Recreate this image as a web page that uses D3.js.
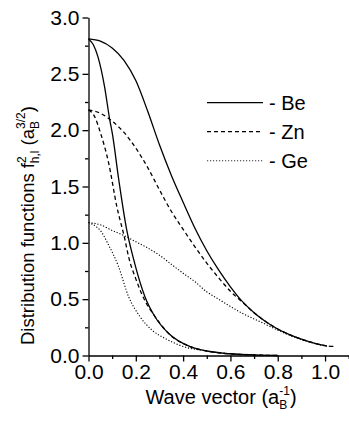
<!DOCTYPE html>
<html>
<head>
<meta charset="utf-8">
<script src="https://cdn.jsdelivr.net/npm/d3@7"></script>
<style>
  body { margin: 0; background: #fff; }
  text { font-family: "Liberation Sans", Arial, sans-serif; fill: #000; }
  .line { fill: none; stroke: #000; }
</style>
</head>
<body>
<div id="chart"></div>
<script>
// curves: [wave vector, f^2]
var beBroad = [[0,2.81],[0.05,2.79],[0.1,2.73],[0.15,2.62],[0.2,2.44],[0.25,2.17],[0.3,1.87],
  [0.35,1.60],[0.4,1.36],[0.45,1.13],[0.5,0.93],[0.55,0.76],[0.6,0.61],[0.65,0.48],[0.7,0.38],
  [0.75,0.30],[0.8,0.235],[0.85,0.185],[0.9,0.145],[0.95,0.112],[1.0,0.088],[1.007,0.086]];
var beNarrow = [[0,2.81],[0.02,2.76],[0.04,2.65],[0.068,2.385],[0.09,2.09],[0.1,1.98],[0.128,1.56],
  [0.162,1.11],[0.19,0.86],[0.239,0.52],[0.281,0.344],[0.338,0.197],[0.43,0.078],[0.5,0.04],
  [0.57,0.02],[0.7,0.005],[0.8,0.0]];
var znBroad = [[0,2.18],[0.05,2.15],[0.1,2.08],[0.15,1.98],[0.2,1.84],[0.25,1.67],[0.3,1.47],
  [0.35,1.28],[0.4,1.12],[0.45,0.965],[0.5,0.82],[0.55,0.69],[0.6,0.57],[0.65,0.475],[0.7,0.38],
  [0.75,0.30],[0.8,0.235],[0.85,0.185],[0.9,0.145],[0.95,0.112],[1.0,0.088],[1.04,0.08]];
var znNarrow = [[0,2.18],[0.026,2.12],[0.05,1.98],[0.085,1.71],[0.12,1.32],[0.155,1.02],[0.169,0.88],
  [0.2,0.68],[0.24,0.48],[0.27,0.38],[0.338,0.197],[0.43,0.078],[0.5,0.04],[0.57,0.02],[0.7,0.005],[0.8,0.0]];
var geBroad = [[0,1.18],[0.05,1.16],[0.1,1.11],[0.15,1.065],[0.2,1.01],[0.25,0.955],[0.3,0.89],
  [0.35,0.81],[0.4,0.73],[0.45,0.655],[0.5,0.565],[0.55,0.5],[0.6,0.435],[0.65,0.375],[0.7,0.325],
  [0.75,0.275],[0.8,0.225],[0.85,0.18],[0.9,0.14],[0.95,0.11],[1.0,0.085],[1.02,0.08]];
var geNarrow = [[0,1.18],[0.035,1.14],[0.05,1.11],[0.085,0.98],[0.125,0.80],[0.17,0.52],[0.218,0.344],
  [0.268,0.226],[0.325,0.15],[0.4,0.08],[0.5,0.04],[0.6,0.015],[0.7,0.005],[0.8,0.0]];

var xTicks = [0, 0.2, 0.4, 0.6, 0.8, 1.0];
var xMinor = [0.1, 0.3, 0.5, 0.7, 0.9, 1.1];
var yTicks = [0, 0.5, 1.0, 1.5, 2.0, 2.5, 3.0];
var yMinor = [0.25, 0.75, 1.25, 1.75, 2.25, 2.75];
var legendNames = ["- Be", "- Zn", "- Ge"];

var width = 349, height = 424;

// scales
var x = d3.scaleLinear().domain([0, 1.1]).range([88.5, 348.7]);
var y = d3.scaleLinear().domain([0, 3]).range([355.5, 17.5]);

var svg = d3.select("#chart").append("svg")
    .attr("width", width)
    .attr("height", height);

var line = d3.line()
    .x(function(d) { return x(d[0]); })
    .y(function(d) { return y(d[1]); })
    .curve(d3.curveMonotoneX);

var styles = [
  {data: beBroad, dash: null, w: 1.3, c: "#000"},
  {data: beNarrow, dash: null, w: 1.3, c: "#000"},
  {data: znBroad, dash: "4,3", w: 1.3, c: "#000"},
  {data: znNarrow, dash: "4,3", w: 1.3, c: "#000"},
  {data: geBroad, dash: "1.2,1.8", w: 1.1, c: "#333"},
  {data: geNarrow, dash: "1.2,1.8", w: 1.1, c: "#333"}
];

styles.forEach(function(s) {
  svg.append("path")
      .datum(s.data)
      .attr("class", "line")
      .attr("stroke", s.c)
      .attr("stroke-width", s.w)
      .attr("stroke-dasharray", s.dash)
      .attr("d", line);
});

// axes
var xAxis = svg.append("g")
    .attr("transform", "translate(0," + y(0) + ")")
    .call(d3.axisBottom(x).tickValues(xTicks).tickSize(6).tickSizeOuter(0)
      .tickFormat(d3.format(".1f")));
svg.append("g")
    .attr("transform", "translate(0," + y(0) + ")")
    .call(d3.axisBottom(x).tickValues(xMinor).tickSize(3.5).tickSizeOuter(0).tickFormat(""))
    .select(".domain").remove();

var yAxis = svg.append("g")
    .attr("transform", "translate(" + x(0) + ",0)")
    .call(d3.axisLeft(y).tickValues(yTicks).tickSize(6).tickSizeOuter(0)
      .tickFormat(d3.format(".1f")));
svg.append("g")
    .attr("transform", "translate(" + x(0) + ",0)")
    .call(d3.axisLeft(y).tickValues(yMinor).tickSize(3.5).tickSizeOuter(0).tickFormat(""))
    .select(".domain").remove();

svg.selectAll(".domain, .tick line").attr("stroke", "#000").attr("stroke-width", 1.3);
xAxis.selectAll("text").attr("font-size", 21).attr("fill", "#000");
yAxis.selectAll("text").attr("font-size", 21).attr("fill", "#000");

// x axis label
var xl = svg.append("text")
    .attr("x", 221)
    .attr("y", 404)
    .attr("text-anchor", "middle")
    .attr("font-size", 20);
xl.append("tspan").text("Wave vector (a");
xl.append("tspan").attr("font-size", 12).attr("dy", 5).text("B");
xl.append("tspan").attr("font-size", 12).attr("dx", -8).attr("dy", -14).text("-1");
xl.append("tspan").attr("dy", 9).text(")");

// y axis label
var yl = svg.append("text")
    .attr("transform", "translate(34,345)rotate(-90)")
    .attr("text-anchor", "start")
    .attr("font-size", 18.5);
yl.append("tspan").text("Distribution functions  f");
yl.append("tspan").attr("font-size", 12).attr("dy", -8).text("2");
yl.append("tspan").attr("font-size", 12).attr("dx", -7).attr("dy", 13).text("h,l");
yl.append("tspan").attr("dy", -5).text(" (a");
yl.append("tspan").attr("font-size", 12).attr("dy", 5).text("B");
yl.append("tspan").attr("font-size", 12).attr("dx", -8).attr("dy", -14).text("3/2");
yl.append("tspan").attr("dy", 9).text(")");

// legend
var legendDash = [null, "4,3", "1.2,1.8"];
legendNames.forEach(function(name, i) {
  var ly = 102.7 + i * 29;
  svg.append("line")
      .attr("x1", 207).attr("x2", 263)
      .attr("y1", ly).attr("y2", ly)
      .attr("stroke", i == 2 ? "#333" : "#000")
      .attr("stroke-width", i == 2 ? 1.1 : 1.3)
      .attr("stroke-dasharray", legendDash[i]);
  svg.append("text")
      .attr("x", 269)
      .attr("y", ly + 7)
      .attr("font-size", 20)
      .text(name);
});
</script>
</body>
</html>
